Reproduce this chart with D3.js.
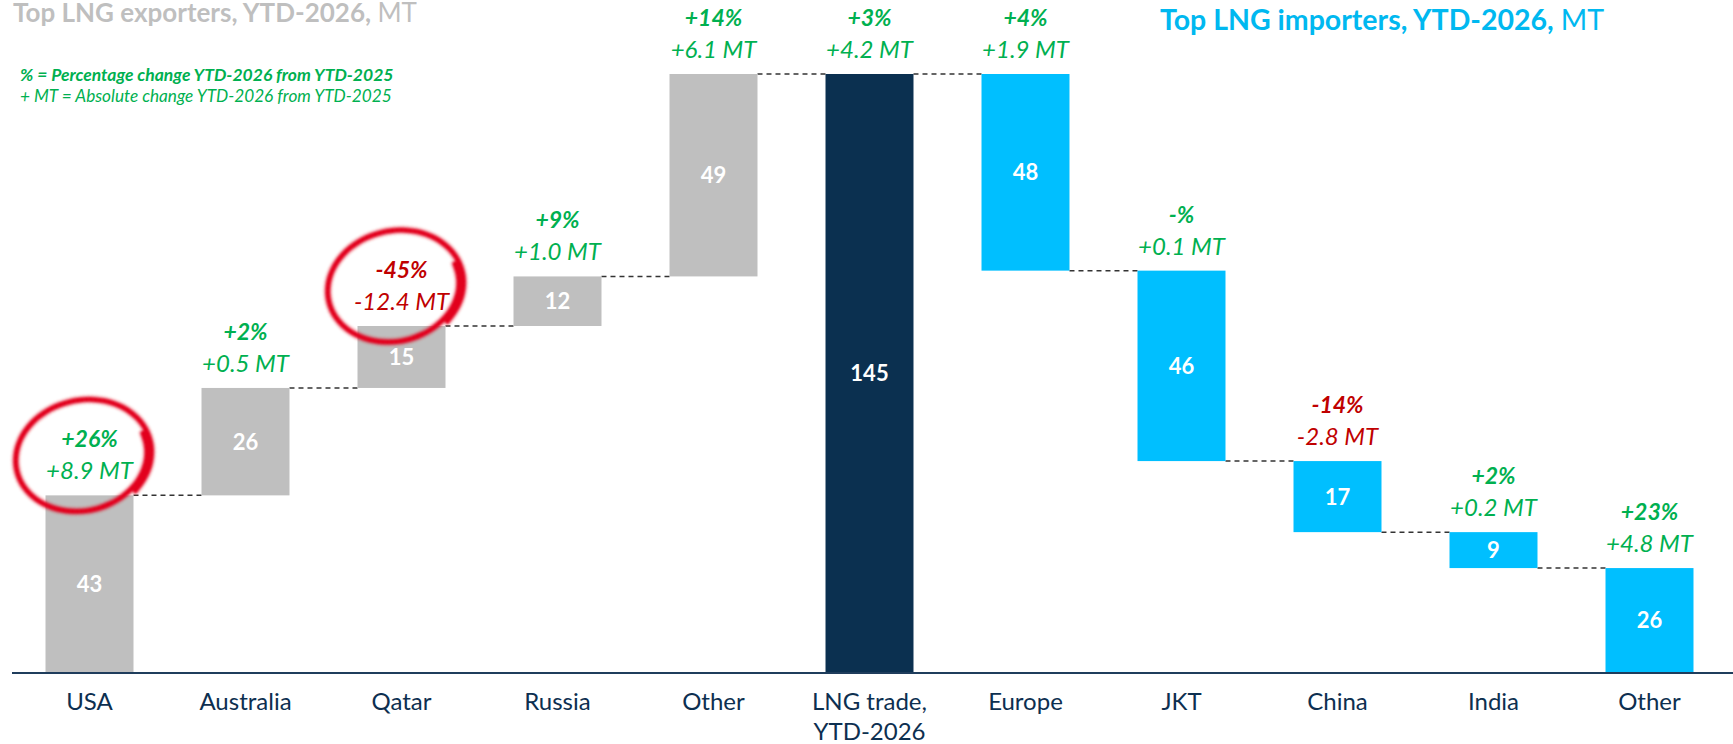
<!DOCTYPE html>
<html>
<head>
<meta charset="utf-8">
<script src="https://cdn.jsdelivr.net/npm/d3@7"></script>
<style>
  body { margin: 0; background: #fff; }
  svg { display: block; font-family: Lato, "Open Sans", sans-serif; }
</style>
</head>
<body>
<div id="chart"></div>
<script>
// Chart data
const categories = ["USA", "Australia", "Qatar", "Russia", "Other", "LNG trade,\nYTD-2026", "Europe", "JKT", "China", "India", "Other"];
const exporterValues = [43, 26, 15, 12, 49];
const totalValue = 145;
const importerValues = [47.6, 46.1, 17.2, 8.7, 25.4];
const barLabels = ["43", "26", "15", "12", "49", "145", "48", "46", "17", "9", "26"];
const pctChange = ["+26%", "+2%", "-45%", "+9%", "+14%", "+3%", "+4%", "-%", "-14%", "+2%", "+23%"];
const absChange = ["+8.9 MT", "+0.5 MT", "-12.4 MT", "+1.0 MT", "+6.1 MT", "+4.2 MT", "+1.9 MT", "+0.1 MT", "-2.8 MT", "+0.2 MT", "+4.8 MT"];
const circled = [0, 2];

const width = 1733;
const height = 744;

const colors = {
  exporter: "#bfbfbf",
  total: "#0b3050",
  importer: "#00bfff",
  green: "#00b050",
  red: "#c00000",
  navy: "#0d2f50",
  circle: "#e2001a"
};

// Build waterfall segments
const segments = [];
let cum = 0;
exporterValues.forEach((v) => {
  segments.push({ y0: cum, y1: cum + v, type: "exporter" });
  cum += v;
});
segments.push({ y0: 0, y1: totalValue, type: "total" });
cum = totalValue;
importerValues.forEach((v) => {
  segments.push({ y0: cum - v, y1: cum, type: "importer" });
  cum -= v;
});
segments.forEach((s, i) => {
  s.i = i;
  s.name = categories[i];
  s.label = barLabels[i];
  s.pct = pctChange[i];
  s.abs = absChange[i];
});

const svg = d3
  .select("#chart")
  .append("svg")
  .attr("width", width)
  .attr("height", height);

const x = d3
  .scaleBand()
  .domain(d3.range(categories.length))
  .range([11.5, 1727.5])
  .paddingInner(0.436)
  .paddingOuter(0.218);

const y = d3.scaleLinear().domain([0, totalValue]).range([673, 74]);

// Titles
const t1 = svg.append("text").attr("x", 13).attr("y", 22)
  .attr("font-size", "26px").attr("fill", "#bfbfbf");
t1.append("tspan").attr("font-weight", "bold").text("Top LNG exporters, YTD-2026, ");
t1.append("tspan").text("MT");

const t2 = svg.append("text").attr("x", 1160).attr("y", 30)
  .attr("font-size", "28.5px").attr("fill", "#00b8f0");
t2.append("tspan").attr("font-weight", "bold").text("Top LNG importers, YTD-2026, ");
t2.append("tspan").text("MT");

// Legend notes
svg.append("text").attr("x", 20).attr("y", 81)
  .attr("font-size", "17.5px").attr("font-weight", "bold").attr("font-style", "italic")
  .attr("fill", colors.green)
  .text("% = Percentage change YTD-2026 from YTD-2025");
svg.append("text").attr("x", 20).attr("y", 102)
  .attr("font-size", "17.2px").attr("font-style", "italic")
  .attr("fill", colors.green)
  .text("+ MT = Absolute change YTD-2026 from YTD-2025");

// Connectors
const connectors = segments.slice(0, -1).map((s, i) => ({
  x1: x(i) + x.bandwidth(),
  x2: x(i + 1),
  level: i < 6 ? s.y1 : s.y0
}));

svg.selectAll("line.conn")
  .data(connectors)
  .enter()
  .append("line")
  .attr("class", "conn")
  .attr("x1", (d) => d.x1)
  .attr("x2", (d) => d.x2)
  .attr("y1", (d) => y(d.level))
  .attr("y2", (d) => y(d.level))
  .attr("stroke", "#333")
  .attr("stroke-width", 1.5)
  .attr("stroke-dasharray", "5,4");

// Bars
svg.selectAll("rect.bar")
  .data(segments)
  .enter()
  .append("rect")
  .attr("class", "bar")
  .attr("x", (d) => x(d.i))
  .attr("width", x.bandwidth())
  .attr("y", (d) => y(d.y1))
  .attr("height", (d) => y(d.y0) - y(d.y1))
  .attr("fill", (d) => colors[d.type]);

// Value labels in bars
svg.selectAll("text.val")
  .data(segments)
  .enter()
  .append("text")
  .attr("class", "val")
  .attr("x", (d) => x(d.i) + x.bandwidth() / 2)
  .attr("y", (d) => (y(d.y0) + y(d.y1)) / 2)
  .attr("dy", "0.36em")
  .attr("text-anchor", "middle")
  .attr("font-size", "22px")
  .attr("font-weight", "bold")
  .attr("fill", "#fff")
  .text((d) => d.label);

// Change labels above bars
const changeColor = (d) => (d.abs.startsWith("-") ? colors.red : colors.green);

svg.selectAll("text.pct")
  .data(segments)
  .enter()
  .append("text")
  .attr("class", "pct")
  .attr("x", (d) => x(d.i) + x.bandwidth() / 2)
  .attr("y", (d) => y(d.y1) - 48)
  .attr("text-anchor", "middle")
  .attr("font-size", "23px")
  .attr("font-weight", "bold")
  .attr("font-style", "italic")
  .attr("fill", changeColor)
  .text((d) => d.pct);

svg.selectAll("text.abs")
  .data(segments)
  .enter()
  .append("text")
  .attr("class", "abs")
  .attr("x", (d) => x(d.i) + x.bandwidth() / 2)
  .attr("y", (d) => y(d.y1) - 16)
  .attr("text-anchor", "middle")
  .attr("font-size", "24px")
  .attr("font-style", "italic")
  .attr("fill", changeColor)
  .text((d) => d.abs);

// Axis line and category labels
svg.append("line")
  .attr("x1", 12).attr("x2", width)
  .attr("y1", y(0)).attr("y2", y(0))
  .attr("stroke", "#1f3d5c")
  .attr("stroke-width", 2);

svg.selectAll("text.cat")
  .data(segments)
  .enter()
  .append("text")
  .attr("class", "cat")
  .attr("x", (d) => x(d.i) + x.bandwidth() / 2)
  .attr("y", 710)
  .attr("text-anchor", "middle")
  .attr("font-size", "24px")
  .attr("fill", colors.navy)
  .each(function (d) {
    const text = d3.select(this);
    d.name.split("\n").forEach((line, k) => {
      text.append("tspan")
        .attr("x", x(d.i) + x.bandwidth() / 2)
        .attr("dy", k === 0 ? 0 : 30)
        .text(line);
    });
  });

// Hand-drawn red circles
const defs = svg.append("defs");
defs.append("filter").attr("id", "brush")
  .append("feGaussianBlur").attr("stdDeviation", 0.9);

const loop = d3.line().curve(d3.curveBasis);

function handCircle(cx, cy) {
  const pts = [];
  const start = -0.9;
  const end = 2 * Math.PI + 0.25;
  for (let t = start; t <= end; t += 0.15) {
    const s = 1.05 - 0.08 * (t - start) / (end - start);
    pts.push([Math.cos(t) * 67 * s, -Math.sin(t) * 55 * s]);
  }
  const g = svg.append("g")
    .attr("transform", `translate(${cx},${cy}) rotate(-13)`)
    .attr("filter", "url(#brush)");
  g.append("path").attr("d", loop(pts))
    .attr("fill", "none").attr("stroke", colors.circle)
    .attr("stroke-width", 9).attr("stroke-opacity", 0.25)
    .attr("stroke-linecap", "round");
  g.append("path").attr("d", loop(pts))
    .attr("fill", "none").attr("stroke", colors.circle)
    .attr("stroke-width", 5).attr("stroke-linecap", "round");
}

circled.forEach((i) => {
  const s = segments[i];
  handCircle(x(i) + x.bandwidth() / 2 - 7, y(s.y1) - 39);
});
</script>
</body>
</html>
